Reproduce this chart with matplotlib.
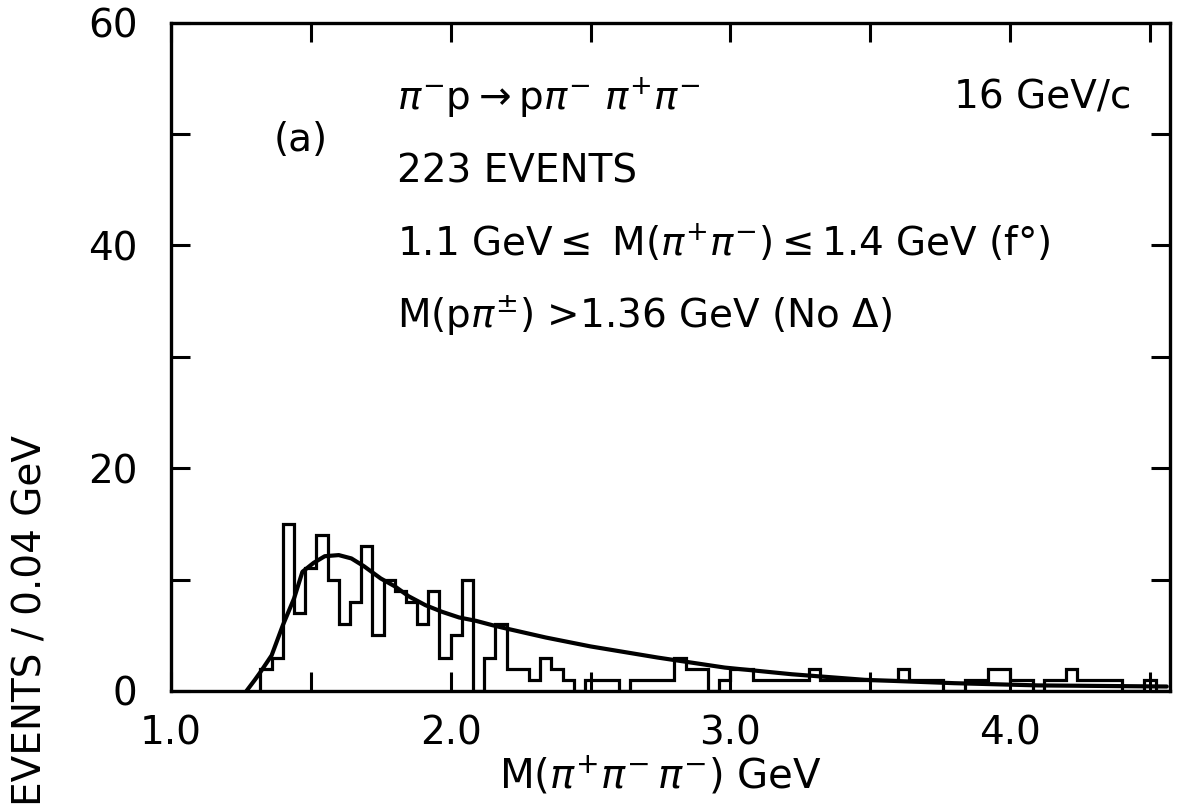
import matplotlib
matplotlib.use("Agg")
import matplotlib.pyplot as plt
import numpy as np

# ---- data ----
bin_edges_start = 1.32
bin_width = 0.04
counts = [2, 3, 15, 7, 11, 14, 10, 6, 8, 13,
          5, 10, 9, 8, 6, 9, 3, 5, 10, 0,
          3, 6, 2, 2, 1, 3, 2, 1, 0, 1,
          1, 1, 0, 1, 1, 1, 1, 3, 2, 2,
          0, 1, 2, 2, 1, 1, 1, 1, 1, 2,
          1, 1, 1, 1, 1, 1, 1, 2, 1, 1,
          1, 0, 0, 1, 1, 2, 2, 1, 1, 0,
          1, 1, 2, 1, 1, 1, 1, 0, 0, 1, 0]

curve_x = [1.27, 1.30, 1.32, 1.36, 1.40, 1.44, 1.47, 1.51, 1.55, 1.60, 1.645,
           1.69, 1.75, 1.80, 1.85, 1.91, 1.97, 2.03, 2.09, 2.15, 2.20, 2.34,
           2.50, 2.74, 2.98, 3.22, 3.48, 3.80, 4.10, 4.56]
curve_y = [0.0, 1.0, 1.7, 3.2, 5.9, 8.3, 10.7, 11.5, 12.1, 12.2, 11.9,
           11.2, 10.1, 9.4, 8.5, 7.7, 7.1, 6.6, 6.3, 5.9, 5.6, 4.8,
           4.0, 3.0, 2.1, 1.5, 1.0, 0.7, 0.5, 0.4]

x_ticklabels = ["1.0", "2.0", "3.0", "4.0"]
x_tickvals = [1.0, 2.0, 3.0, 4.0]
y_tickvals = [0, 20, 40, 60]

plt.rcParams['font.family'] = ['DejaVu Sans']

fig = plt.figure(figsize=(11.79, 8.11), dpi=100)
ax = fig.add_axes([0.145, 0.148, 0.847, 0.824])

edges = bin_edges_start + bin_width * np.arange(len(counts) + 1)
ax.stairs(counts, edges, color='black', linewidth=2.3, baseline=0)
ax.plot(curve_x, curve_y, color='black', linewidth=3.0, solid_capstyle='round')

ax.set_xlim(1.0, 4.57)
ax.set_ylim(0, 60)

ax.set_xticks(x_tickvals)
ax.set_xticklabels(x_ticklabels)
ax.set_xticks(np.arange(1.5, 4.6, 1.0), minor=True)
ax.set_yticks(y_tickvals)
ax.set_yticklabels([str(v) for v in y_tickvals])
ax.set_yticks([10, 30, 50], minor=True)

ax.tick_params(axis='both', which='both', direction='in', top=True, right=True,
               width=2.2, length=14, labelsize=28)
ax.tick_params(axis='x', which='major', pad=17)
ax.tick_params(axis='y', which='major', pad=24)
for s in ax.spines.values():
    s.set_linewidth(2.4)

ax.set_xlabel(r"M($\pi^{+}\pi^{-}\,\pi^{-}$) GeV", fontsize=29, labelpad=2, x=0.49)
fig.text(0.026, 0.006, "EVENTS / 0.04 GeV", rotation=90, ha='center', va='bottom',
         fontsize=28)

fs = 28
ax.text(0.226, 0.888, r"$\pi^{-}$p$\rightarrow$p$\pi^{-}$ $\pi^{+}\pi^{-}$",
        transform=ax.transAxes, fontsize=fs, va='center', ha='left')
ax.text(0.962, 0.888, "16 GeV/c", transform=ax.transAxes, fontsize=fs,
        va='center', ha='right')
ax.text(0.103, 0.825, "(a)", transform=ax.transAxes, fontsize=fs, va='center')
ax.text(0.226, 0.778, "223 EVENTS", transform=ax.transAxes, fontsize=fs, va='center')
ax.text(0.226, 0.670, r"1.1 GeV$\leq$ M($\pi^{+}\pi^{-}$)$\leq$1.4 GeV (f°)",
        transform=ax.transAxes, fontsize=fs, va='center')
ax.text(0.226, 0.562, r"M(p$\pi^{\pm}$) >1.36 GeV (No $\Delta$)",
        transform=ax.transAxes, fontsize=fs, va='center')

fig.savefig("out.png", dpi=100)
